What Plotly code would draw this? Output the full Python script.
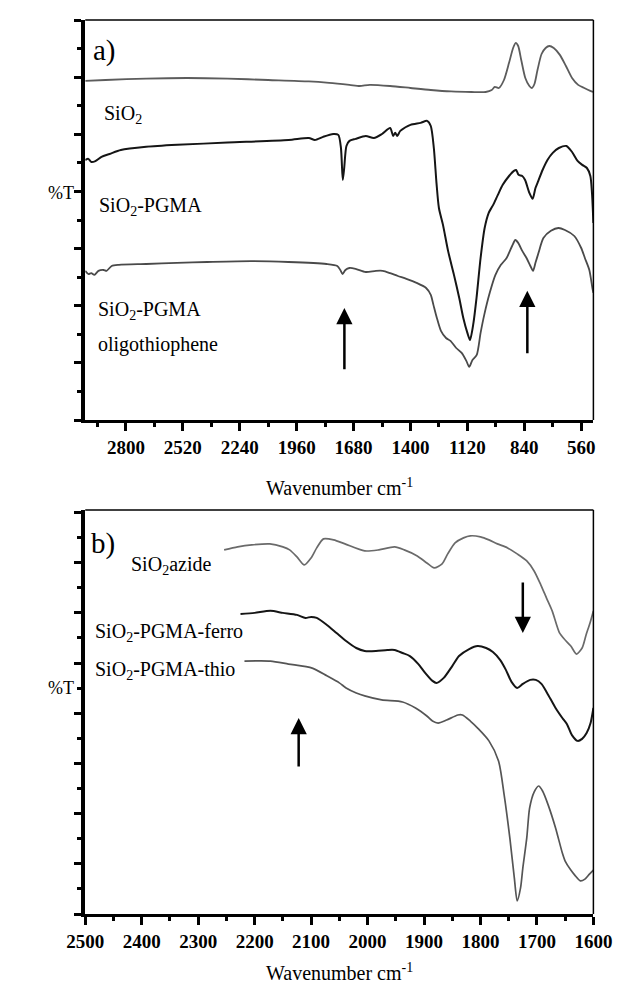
import plotly.graph_objects as go

# ---------------- Panel a data (wavenumber, %T in arbitrary units) ----------------
a_sio2_wn = [3000, 2900, 2700, 2500, 2300, 2100, 1900, 1800, 1700, 1650, 1600, 1500, 1400, 1300,
             1200, 1100, 1030, 1000, 985, 965, 940, 915, 895, 882, 870, 855, 835, 815, 803, 790,
             775, 755, 735, 717, 695, 665, 635, 605, 575, 545, 515, 500]
a_sio2_t = [11.87, 11.90, 11.95, 11.97, 11.95, 11.90, 11.85, 11.80, 11.73, 11.69, 11.73, 11.69, 11.62,
            11.55, 11.50, 11.48, 11.48, 11.55, 11.66, 11.62, 11.90, 12.50, 13.02, 13.20, 13.09, 12.60,
            11.97, 11.69, 11.62, 11.76, 12.25, 12.81, 13.02, 13.09, 13.02, 12.78, 12.39, 11.97, 11.73,
            11.62, 11.52, 11.48]

a_pgma_wn = [3000, 2985, 2970, 2950, 2920, 2880, 2825, 2700, 2547, 2300, 2000, 1900, 1870, 1830,
             1780, 1755, 1742, 1733, 1726, 1715, 1700, 1670, 1620, 1580, 1540, 1500, 1485, 1475,
             1465, 1450, 1400, 1350, 1318, 1300, 1285, 1272, 1260, 1240, 1215, 1186, 1160, 1140,
             1120, 1107, 1090, 1075, 1055, 1035, 1015, 1002, 993, 970, 946, 915, 891, 880, 868,
             850, 836, 815, 799, 785, 771, 750, 726, 700, 670, 633, 605, 578, 555, 532, 515, 507, 500]
a_pgma_t = [9.10, 9.14, 9.03, 9.06, 9.21, 9.31, 9.45, 9.56, 9.63, 9.71, 9.80, 9.87, 9.80, 9.91,
            10.01, 9.98, 9.52, 8.40, 8.82, 9.59, 9.77, 9.84, 9.94, 9.87, 10.01, 10.22, 9.94, 10.05,
            9.94, 10.12, 10.33, 10.40, 10.47, 10.29, 9.52, 8.30, 7.42, 6.83, 5.92, 5.08, 4.27, 3.57,
            3.05, 2.80, 3.40, 4.27, 5.67, 6.72, 7.25, 7.42, 7.53, 7.88, 8.23, 8.54, 8.72, 8.75, 8.58,
            8.54, 8.40, 7.95, 7.74, 8.12, 8.37, 8.75, 9.10, 9.35, 9.52, 9.59, 9.38, 9.07, 8.93, 8.82,
            8.54, 7.95, 6.90]

a_oligo_wn = [3000, 2985, 2970, 2955, 2935, 2910, 2895, 2870, 2834, 2700, 2549, 2400, 2183, 2000,
              1813, 1760, 1745, 1734, 1720, 1700, 1670, 1620, 1570, 1536, 1500, 1462, 1420, 1370,
              1323, 1300, 1287, 1270, 1250, 1225, 1203, 1175, 1148, 1125, 1111, 1095, 1074, 1055,
              1037, 1010, 982, 955, 927, 900, 884, 870, 850, 829, 810, 797, 785, 770, 746, 709,
              672, 640, 594, 560, 542, 520, 505, 500]
a_oligo_t = [5.22, 5.11, 5.14, 5.08, 5.22, 5.25, 5.22, 5.39, 5.43, 5.46, 5.50, 5.53, 5.56, 5.53,
             5.46, 5.39, 5.25, 5.11, 5.25, 5.32, 5.29, 5.18, 5.22, 5.22, 5.14, 5.04, 4.94, 4.80,
             4.62, 4.38, 4.03, 3.57, 3.12, 2.87, 2.77, 2.52, 2.35, 2.07, 1.86, 2.10, 2.28, 3.05,
             3.68, 4.45, 5.08, 5.43, 5.67, 6.09, 6.30, 6.20, 5.92, 5.67, 5.39, 5.22, 5.50, 5.85,
             6.37, 6.62, 6.72, 6.65, 6.44, 6.02, 5.67, 5.25, 4.62, 4.45]

a_ticks = [2800, 2520, 2240, 1960, 1680, 1400, 1120, 840, 560]

# ---------------- Panel b data ----------------
b_azide_wn = [2254, 2230, 2205, 2173, 2150, 2138, 2125, 2112, 2100, 2090, 2078, 2060, 2040, 2005,
              1980, 1952, 1935, 1912, 1895, 1882, 1868, 1858, 1845, 1830, 1818, 1800, 1785, 1770,
              1752, 1735, 1718, 1705, 1693, 1683, 1673, 1660, 1650, 1640, 1630, 1620, 1613, 1606, 1600]
b_azide_t = [14.51, 14.63, 14.71, 14.75, 14.63, 14.51, 14.23, 13.91, 14.19, 14.59, 14.95, 14.91, 14.75,
             14.47, 14.51, 14.63, 14.51, 14.27, 13.99, 13.79, 13.95, 14.35, 14.79, 14.99, 15.07, 15.03,
             14.91, 14.75, 14.59, 14.35, 14.07, 13.67, 13.11, 12.59, 12.08, 11.20, 10.92, 10.68, 10.36,
             10.60, 11.12, 11.60, 12.08]

b_ferro_wn = [2225, 2200, 2172, 2150, 2125, 2110, 2100, 2090, 2072, 2055, 2038, 2020, 2005, 1985,
              1965, 1952, 1938, 1925, 1910, 1898, 1885, 1878, 1865, 1850, 1838, 1820, 1805, 1790,
              1778, 1765, 1755, 1745, 1735, 1725, 1712, 1702, 1692, 1682, 1667, 1655, 1647, 1638,
              1628, 1620, 1612, 1605, 1600]
b_ferro_t = [11.96, 12.00, 12.08, 12.00, 11.92, 11.80, 11.84, 11.80, 11.52, 11.20, 10.88, 10.60, 10.48,
             10.48, 10.52, 10.52, 10.40, 10.28, 9.96, 9.61, 9.29, 9.21, 9.41, 9.88, 10.28, 10.56, 10.68,
             10.60, 10.44, 10.12, 9.73, 9.25, 9.01, 9.17, 9.33, 9.33, 9.17, 8.81, 8.21, 7.81, 7.57, 7.13,
             6.90, 6.98, 7.21, 7.61, 8.21]

b_thio_wn = [2218, 2172, 2140, 2098, 2072, 2050, 2038, 2020, 2005, 1975, 1938, 1915, 1895, 1885,
             1875, 1860, 1840, 1832, 1818, 1805, 1785, 1768, 1758, 1748, 1740, 1735, 1729, 1725,
             1718, 1713, 1705, 1697, 1690, 1680, 1667, 1655, 1650, 1640, 1633, 1623, 1615, 1607, 1600]
b_thio_t = [10.08, 10.08, 9.96, 9.80, 9.49, 9.21, 9.01, 8.81, 8.69, 8.53, 8.45, 8.21, 7.89, 7.69,
            7.61, 7.73, 7.93, 7.93, 7.69, 7.41, 6.90, 6.10, 4.74, 3.03, 1.43, 0.52, 1.04, 1.83,
            3.03, 4.22, 4.86, 5.10, 4.90, 4.34, 3.43, 2.43, 2.11, 1.75, 1.55, 1.32, 1.39, 1.59, 1.75]

# ---------------- Layout geometry ----------------
W, H = 626, 983
XL, XR = 62, 603
A_TOP, A_BOT = 12, 412
B_TOP, B_BOT = 502, 906

def px(x):
    return x / W

def py(y):
    return 1 - y / H

SERIF = "Liberation Serif"

fig = go.Figure()

def add_line(x, y, color, width, xa, ya):
    fig.add_trace(go.Scatter(x=x, y=y, mode="lines",
                             line=dict(color=color, width=width, shape="spline", smoothing=0.7),
                             xaxis=xa, yaxis=ya, showlegend=False, hoverinfo="skip"))

add_line(a_sio2_wn, a_sio2_t, "#5c5c5c", 1.8, "x", "y")
add_line(a_pgma_wn, a_pgma_t, "#151515", 2.0, "x", "y")
add_line(a_oligo_wn, a_oligo_t, "#4a4a4a", 1.8, "x", "y")
add_line(b_azide_wn, b_azide_t, "#6a6a6a", 1.7, "x2", "y2")
add_line(b_ferro_wn, b_ferro_t, "#151515", 2.0, "x2", "y2")
add_line(b_thio_wn, b_thio_t, "#555555", 1.7, "x2", "y2")

tickfont = dict(family=SERIF, size=19, color="black", weight="bold")

common_x = dict(showgrid=False, zeroline=False, showline=True, linecolor="black", linewidth=3,
                ticks="outside", ticklen=8, tickwidth=3, tickcolor="black", tickfont=tickfont,
                ticklabelstandoff=0)
common_y = dict(showgrid=False, zeroline=False, showline=True, linecolor="black", linewidth=4,
                ticks="outside", ticklen=7, tickwidth=3, tickcolor="black", showticklabels=False,
                tick0=0, dtick=2,
                minor=dict(dtick=1, ticks="outside", ticklen=4, tickwidth=3, tickcolor="black"))

fig.update_layout(
    width=W, height=H, autosize=False,
    margin=dict(l=0, r=0, t=0, b=0),
    paper_bgcolor="white", plot_bgcolor="white",
    xaxis=dict(domain=[px(XL), px(XR)], range=[3000, 500], anchor="y",
               tickvals=a_ticks, ticktext=[str(t) for t in a_ticks],
               minor=dict(dtick=140, tick0=0, ticks="outside", ticklen=4, tickwidth=3, tickcolor="black"),
               **common_x),
    yaxis=dict(domain=[py(A_BOT), py(A_TOP)], range=[0, 14], anchor="x", **common_y),
    xaxis2=dict(domain=[px(XL), px(XR)], range=[2500, 1600], anchor="y2", tick0=0, dtick=100,
                minor=dict(dtick=50, tick0=0, ticks="outside", ticklen=4, tickwidth=3, tickcolor="black"),
                **common_x),
    yaxis2=dict(domain=[py(B_BOT), py(B_TOP)], range=[0, 16.1], anchor="x2", **common_y),
)

# thin top/right frame lines
for top, bot in [(A_TOP, A_BOT), (B_TOP, B_BOT)]:
    fig.add_shape(type="line", xref="paper", yref="paper", x0=px(XL), x1=px(XR), y0=py(top), y1=py(top),
                  line=dict(color="black", width=1.5))
    fig.add_shape(type="line", xref="paper", yref="paper", x0=px(XR), x1=px(XR), y0=py(top), y1=py(bot),
                  line=dict(color="black", width=1.5))


def text(x, y, t, xref, yref, xanchor="left", size=20):
    fig.add_annotation(x=x, y=y, xref=xref, yref=yref, text=t, showarrow=False,
                       xanchor=xanchor, yanchor="middle", borderpad=0,
                       font=dict(family=SERIF, size=size, color="black"))

# Panel a labels
text(2903, 12.92, "a)", "x", "y", "center", 29)
text(2912, 10.68, "SiO<sub>2</sub>", "x", "y")
text(2935, 7.49, "SiO<sub>2</sub>-PGMA", "x", "y")
text(2940, 3.85, "SiO<sub>2</sub>-PGMA", "x", "y")
text(2940, 2.63, "oligothiophene", "x", "y")
# Panel b labels
text(2468, 14.75, "b)", "x2", "y2", "center", 29)
text(2420, 13.87, "SiO<sub>2</sub>azide", "x2", "y2")
text(2485, 11.20, "SiO<sub>2</sub>-PGMA-ferro", "x2", "y2")
text(2485, 9.69, "SiO<sub>2</sub>-PGMA-thio", "x2", "y2")

# %T and axis titles
text(px(36), py(185), "%T", "paper", "paper", "center", 18)
text(px(36), py(680), "%T", "paper", "paper", "center", 18)
text(px(333), py(479), "Wavenumber cm<sup>-1</sup>", "paper", "paper", "center", 20)
text(px(333), py(964), "Wavenumber cm<sup>-1</sup>", "paper", "paper", "center", 20)

# arrows
arrows = [
    ("x", "y", 1725, 3.92, 1725, 1.72),
    ("x", "y", 825, 4.52, 825, 2.28),
    ("x2", "y2", 1725, 11.20, 1725, 13.27),
    ("x2", "y2", 2122, 7.81, 2122, 5.82),
]
for xr, yr, x, y, ax, ay in arrows:
    fig.add_annotation(x=x, y=y, ax=ax, ay=ay, xref=xr, yref=yr, axref=xr, ayref=yr, text="",
                       showarrow=True, arrowhead=2, arrowsize=1.3, arrowwidth=2.5, arrowcolor="black",
                       standoff=0, startstandoff=0)

fig.write_html("out.html")
